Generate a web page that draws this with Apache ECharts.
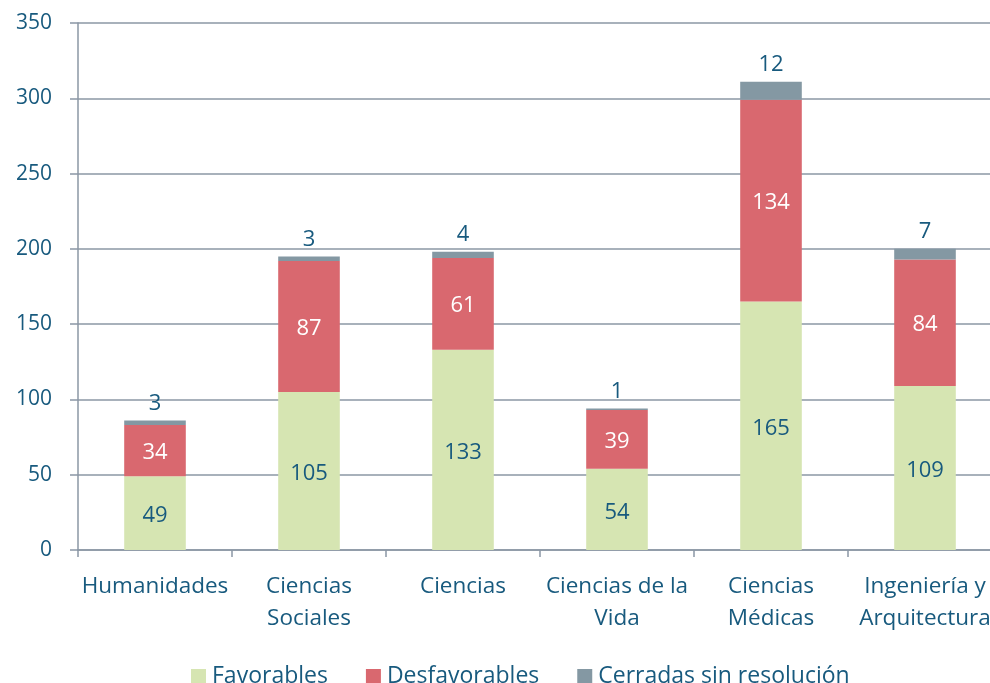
<!DOCTYPE html>
<html>
<head>
<meta charset="utf-8">
<script src="https://cdn.jsdelivr.net/npm/echarts@6/dist/echarts.min.js"></script>
<style>
html,body{margin:0;padding:0;background:#fff;overflow:hidden;}
#chart{width:1002px;height:683px;}
</style>
</head>
<body>
<div id="chart"></div>
<script>
var categories = ["Humanidades", "Ciencias\nSociales", "Ciencias", "Ciencias de la\nVida", "Ciencias\nMédicas", "Ingeniería y\nArquitectura"];
var favorables = [49, 105, 133, 54, 165, 109];
var desfavorables = [34, 87, 61, 39, 134, 84];
var cerradas = [3, 3, 4, 1, 12, 7];
var seriesNames = ["Favorables", "Desfavorables", "Cerradas sin resolución"];

var textColor = "#185a7e";
var gridColor = "#8b97a5";
var font = "Open Sans";

var chart = echarts.init(document.getElementById('chart'));
chart.setOption({
  animation: false,
  textStyle: { fontFamily: font },
  grid: { left: 78, top: 23, right: 0, height: 527, containLabel: false },
  legend: {
    top: 660,
    left: 186,
    itemWidth: 15,
    itemHeight: 15,
    itemGap: 38,
    icon: 'rect',
    textStyle: { color: textColor, fontSize: 23, fontFamily: font, padding: [0, 0, 0, 1] },
    data: seriesNames
  },
  xAxis: {
    type: 'category',
    data: categories,
    axisLine: { lineStyle: { color: gridColor, width: 1.5 } },
    axisTick: { show: true, length: 7, lineStyle: { color: gridColor, width: 1.5 } },
    axisLabel: { color: textColor, fontSize: 22.5, margin: 21, lineHeight: 32, fontFamily: font, interval: 0 }
  },
  yAxis: {
    type: 'value',
    min: 0,
    max: 350,
    interval: 50,
    axisLine: { show: true, lineStyle: { color: gridColor, width: 1.5 } },
    axisTick: { show: true, length: 8, lineStyle: { color: gridColor, width: 1.5 } },
    splitLine: { lineStyle: { color: gridColor, width: 1.5 } },
    axisLabel: { color: textColor, fontSize: 21, margin: 26, fontFamily: font }
  },
  series: [
    {
      name: seriesNames[0], type: 'bar', stack: 'total', data: favorables, barWidth: '40%',
      itemStyle: { color: '#d6e5b2' },
      label: { show: true, position: 'inside', offset: [0, 3], color: textColor, fontSize: 22, fontFamily: font }
    },
    {
      name: seriesNames[1], type: 'bar', stack: 'total', data: desfavorables,
      itemStyle: { color: '#d9686f' },
      label: { show: true, position: 'inside', offset: [0, 2], color: '#ffffff', fontSize: 22, fontFamily: font }
    },
    {
      name: seriesNames[2], type: 'bar', stack: 'total', data: cerradas,
      itemStyle: { color: '#8498a3' },
      label: { show: true, position: 'top', distance: 6, color: textColor, fontSize: 22, fontFamily: font }
    }
  ]
});
</script>
</body>
</html>
